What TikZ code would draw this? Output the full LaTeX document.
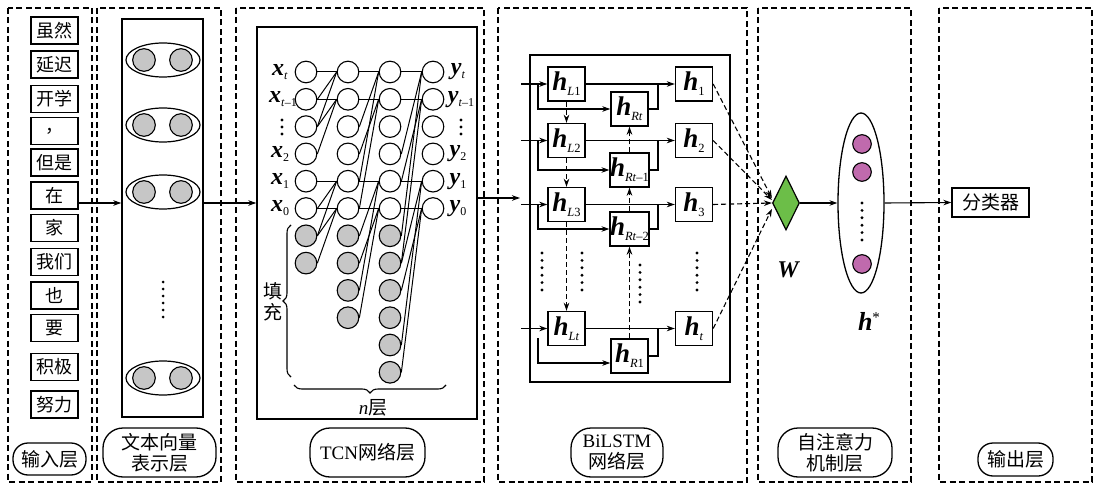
\documentclass[tikz,border=0pt]{standalone}
\usepackage{fontspec}
\setmainfont{Liberation Serif}
\newfontfamily\cjk{Noto Sans CJK SC}
\usetikzlibrary{arrows.meta,shapes.geometric,decorations.pathreplacing,calc}
\newcommand{\hh}[1]{{\fontsize{27}{27}\selectfont\bfseries\itshape h}\raisebox{-5pt}{\fontsize{12.5}{12.5}\selectfont #1}}
\newcommand{\vl}[2]{{\fontsize{24}{24}\selectfont\bfseries\itshape #1}\raisebox{-4pt}{\fontsize{12}{12}\selectfont #2}}
\newcommand{\vd}{{\fontsize{18}{18}\selectfont\bfseries\textperiodcentered}}
\tikzset{
  panel/.style={draw, line width=1.4pt, dash pattern=on 6pt off 3.5pt},
  word/.style={draw, line width=1.3pt, minimum width=47pt, minimum height=27pt, inner sep=0pt, font=\cjk\fontsize{18}{18}\selectfont},
  lbl/.style={draw, line width=1.3pt, inner sep=0pt, align=center, font=\cjk\fontsize{19}{21}\selectfont},
  neuron/.style={circle, draw, line width=1.1pt, minimum size=21.6pt, inner sep=0pt, fill=white},
  pad/.style={neuron, fill=gray!45},
  conn/.style={line width=1pt},
  hbox/.style={draw, line width=1.4pt, minimum width=37pt, minimum height=34pt, inner sep=0pt},
  arr/.style={-{Stealth[length=8pt,width=5.5pt]}, line width=1.1pt},
  darr/.style={arr, dashed, dash pattern=on 5pt off 3pt},
  inner/.style={draw, line width=1.4pt},
  tlab/.style={inner sep=0pt},
}
\begin{document}
\begin{tikzpicture}[x=1pt,y=-1pt]
\useasboundingbox[fill=white] (0,0) rectangle (1097,486);

% panels
\draw[panel] (8,8) rectangle (92,482);
\draw[panel] (97,8) rectangle (221,482);
\draw[panel] (236,8) rectangle (484,482);
\draw[panel] (498,8) rectangle (747,482);
\draw[panel] (758,8) rectangle (911,482);
\draw[panel] (939,8) rectangle (1092,482);

% bottom labels
\node[lbl, minimum width=73pt, minimum height=32pt, rounded corners=15pt] (L1) at (49.5,459) {输入层};
\node[lbl, minimum width=113pt, minimum height=49pt, rounded corners=20pt] (L2) at (159.5,452.5) {文本向量\\表示层};
\node[lbl, minimum width=115pt, minimum height=49pt, rounded corners=20pt] (L3) at (367.5,452.5) {{\rmfamily TCN}网络层};
\node[lbl, minimum width=92pt, minimum height=49pt, rounded corners=20pt] (L4) at (617,452.5) {{\rmfamily BiLSTM}\\网络层};
\node[lbl, minimum width=114pt, minimum height=49pt, rounded corners=20pt] (L5) at (835,452.5) {自注意力\\机制层};
\node[lbl, minimum width=75pt, minimum height=33pt, rounded corners=15pt] (L6) at (1015.5,459.5) {输出层};

% input words
\foreach \i/\t/\yy in {1/虽然/30.5, 2/延迟/64.5, 3/开学/99, 4/，/131, 5/但是/162.5, 6/在/195.5, 7/家/228, 8/我们/262, 9/也/295.5, 10/要/328, 11/积极/367, 12/努力/404.5}
  \node[word] (w\i) at (54.5,\yy) {\t};

\coordinate (r1) at (0,203);
\coordinate (r2) at (0,198);

% text vector panel
\node[inner, minimum width=81pt, minimum height=398pt, inner sep=0pt] (vbox) at (162.5,218) {};
\foreach \k/\yy in {1/60, 2/125, 3/192, 4/378}{
  \node[draw, ellipse, line width=1.2pt, minimum width=74pt, minimum height=34pt, inner sep=0pt] (e\k) at (163,\yy) {};
  \node[circle, draw, line width=1.1pt, fill=gray!45, minimum size=22.6pt, inner sep=0pt] (e\k a) at (144,\yy) {};
  \node[circle, draw, line width=1.1pt, fill=gray!45, minimum size=22.6pt, inner sep=0pt] (e\k b) at (181,\yy) {};
}
\foreach \yy in {282,289,296,303,310,317} \fill (163,\yy) circle (1.5pt);

\draw[arr] (w6.east |- r1) -- (vbox.west |- r1);

% TCN
\node[inner, minimum width=220pt, minimum height=392pt, inner sep=0pt] (tbox) at (367,223) {};
\draw[arr] (vbox.east |- r1) -- (tbox.west |- r1);

\foreach \c/\x/\last in {1/306/7, 2/348/9, 3/390/11, 4/433/5}{
  \foreach \r in {0,...,\last}{
    \ifnum\r>5
      \node[pad] (n\c-\r) at (\x,{72+27.3*\r}) {};
    \else
      \node[neuron] (n\c-\r) at (\x,{72+27.3*\r}) {};
    \fi
  }
}
\foreach \c/\d in {1/1, 2/2, 3/3}{
  \pgfmathtruncatemacro\nc{\c+1}
  \foreach \r in {0,1,4,5}{
    \foreach \j in {0,1,2}{
      \pgfmathtruncatemacro\s{\r+\j*\d}
      \draw[conn] (n\c-\s.east) -- (n\nc-\r.west);
    }
  }
}
% labels x, y
\node[tlab] (x0l) at (280,72) {\vl{x}{\textit{t}}};
\node[tlab] (x1l) at (283,99.3) {\vl{x}{\textit{t}–1}};
\foreach \yy in {120,127,134} \fill (282,\yy) circle (1.6pt);
\node[tlab] (x3l) at (280,153.9) {\vl{x}{2}};
\node[tlab] (x4l) at (280,181.2) {\vl{x}{1}};
\node[tlab] (x5l) at (280,208.5) {\vl{x}{0}};
\node[tlab] (y0l) at (458,72) {\vl{y}{\textit{t}}};
\node[tlab] (y1l) at (461,99.3) {\vl{y}{\textit{t}–1}};
\foreach \yy in {120,127,134} \fill (461,\yy) circle (1.6pt);
\node[tlab] (y3l) at (458,153.9) {\vl{y}{2}};
\node[tlab] (y4l) at (458,181.2) {\vl{y}{1}};
\node[tlab] (y5l) at (458,208.5) {\vl{y}{0}};

% braces
\coordinate (bl1) at (291,377);
\coordinate (bl2) at (291,225);
\draw[decorate, decoration={brace, amplitude=8pt}, line width=1.1pt] (bl1) -- (bl2);
\node[lbl, draw=none] (pad) at (273,302) {填\\充};
\coordinate (bb1) at (446,385);
\coordinate (bb2) at (294,385);
\draw[decorate, decoration={brace, amplitude=8pt}, line width=1.1pt] (bb1) -- (bb2);
\node[lbl, draw=none] (nl) at (373,408) {{\rmfamily\itshape n}层};

% BiLSTM
\node[inner, minimum width=200pt, minimum height=327pt, inner sep=0pt] (bbox) at (630,218.5) {};
\coordinate (bend) at (520,198);
\draw[arr] (tbox.east |- r2) -- (bend);

\node[hbox] (hL1) at (566.5,84) {\hh{\textit{L}1}};
\node[hbox] (hL2) at (566.5,140.5) {\hh{\textit{L}2}};
\node[hbox] (hL3) at (566.5,204.5) {\hh{\textit{L}3}};
\node[hbox] (hLt) at (566.5,328.5) {\hh{\textit{Lt}}};
\node[hbox] (hR4) at (629.5,109) {\hh{\textit{Rt}}};
\node[hbox] (hR3) at (629.5,170) {\hh{\textit{Rt}–1}};
\node[hbox] (hR2) at (629.5,229) {\hh{\textit{Rt}–2}};
\node[hbox] (hR1) at (629.5,356) {\hh{\textit{R}1}};
\node[hbox] (ho1) at (694,84) {\hh{1}};
\node[hbox] (ho2) at (694,140.5) {\hh{2}};
\node[hbox] (ho3) at (694,204.5) {\hh{3}};
\node[hbox] (hot) at (694,328.5) {\hh{\textit{t}}};

\coordinate (inx) at (521,0);
\coordinate (brx) at (538,0);
\coordinate (jnx) at (658,0);
\foreach \a/\b/\o in {hL1/hR4/ho1, hL2/hR3/ho2, hL3/hR2/ho3}{
  \draw[arr] (inx |- \a.west) -- (\a.west);
  \draw[arr] (brx |- \a.west) -- (brx |- \b.west) -- (\b.west);
  \draw[arr] (\a.east) -- (\o.west);
  \draw[line width=1.1pt] (\b.east) -- (jnx |- \b.east) -- (jnx |- \o.west);
}
\draw[arr] (inx |- hLt.west) -- (hLt.west);
\coordinate (br4) at (538,338);
\coordinate (br5) at (538,363);
\draw[arr] (br4) -- (br5) -- (hR1.west |- br5);
\draw[arr] (hLt.east) -- (hot.west);
\draw[line width=1.1pt] (hR1.east) -- (jnx |- hR1.east) -- (jnx |- hot.west);

\draw[darr] (hL1.south) -- (hL2.north);
\draw[darr] (hL2.south) -- (hL3.north);
\draw[darr] (hL3.south) -- (hLt.north);
\draw[darr] (hR1.north) -- (hR2.south);
\draw[darr] (hR2.north) -- (hR3.south);
\draw[darr] (hR3.north) -- (hR4.south);

\foreach \xx/\ys in {542/253, 582/253, 640/265, 697/253}{
  \foreach \k in {0,...,5} \fill (\xx,{\ys+\k*7.4}) circle (1.6pt);
}

% attention
\node[diamond, draw, line width=1.2pt, fill={rgb,255:red,108;green,190;blue,72}, minimum width=27pt, minimum height=54pt, inner sep=0pt] (W) at (786,203) {};
\node[tlab, font=\fontsize{24}{24}\selectfont\bfseries\itshape] (Wl) at (788,270) {W};
\draw[darr] (ho1.east) -- ([yshift=5pt]W.west);
\draw[darr] (ho2.east) -- ([yshift=3pt]W.west);
\draw[darr] (ho3.east) -- (W.west);
\draw[darr] (hot.east) -- ([yshift=-6pt]W.west);

\node[draw, ellipse, line width=1.3pt, minimum width=46pt, minimum height=180pt, inner sep=0pt] (hs) at (861,203) {};
\foreach \k/\yy in {1/144, 2/172, 3/264}
  \node[circle, draw, line width=1.1pt, fill={rgb,255:red,192;green,106;blue,173}, minimum size=18.6pt, inner sep=0pt] (p\k) at (862,\yy) {};
\foreach \k in {0,...,5} \fill (862,{203+\k*7.4}) circle (1.6pt);
\node[tlab] (hsl) at (869,321) {{\fontsize{26}{26}\selectfont\bfseries\itshape h}\raisebox{8pt}{\fontsize{15}{15}\selectfont *}};
\draw[arr] (W.east) -- (hs.west);

% output
\node[draw, line width=1.3pt, minimum width=77pt, minimum height=29pt, inner sep=0pt, font=\cjk\fontsize{19}{19}\selectfont] (cls) at (990.5,202.5) {分类器};
\draw[arr] (hs.east) -- (cls.west);
\end{tikzpicture}
\end{document}
